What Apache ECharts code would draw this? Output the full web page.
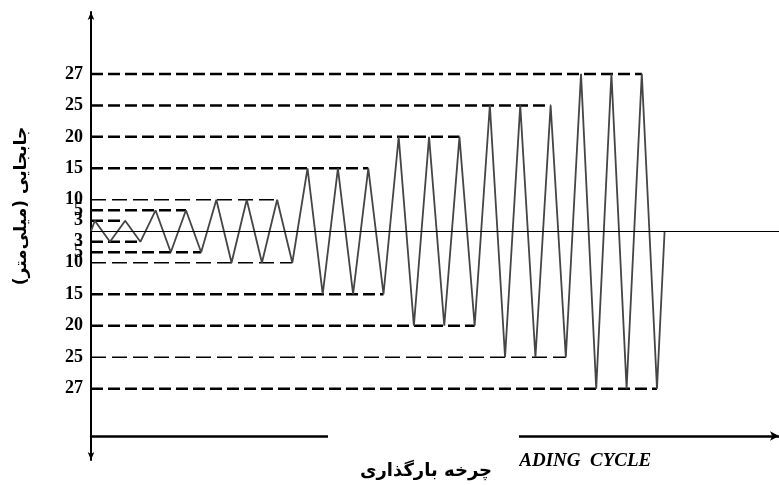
<!DOCTYPE html>
<html><head><meta charset="utf-8">
<script src="https://cdn.jsdelivr.net/npm/echarts@6/dist/echarts.min.js"></script>
<style>html,body{margin:0;padding:0;background:#fff}#c{width:779px;height:485px}</style>
</head><body><div id="c"></div>
<script>
// ---------------- data ----------------
const amplitudes = [3, 5, 10, 15, 20, 25, 27];          // displacement levels, mm
const cyclesPerAmplitude = [2, 2, 3, 3, 3, 3, 3];       // cycles at each level
const tickLabels = ['3', '5', '10', '15', '20', '25', '27'];
const yAxisTitle = 'جابجایی (میلی‌متر)';
const xAxisTitle = 'چرخه بارگذاری';
const xAxisTitleEn = 'LOADING  CYCLE';

// ---------------- schematic (non-uniform) axis scale ----------------
const knotsMm = [0, 3, 5, 10, 15, 20, 25, 27];
const knotsAxis = [0, 1, 2, 3, 6, 9, 12, 15];
function toAxis(v) {
  const s = v < 0 ? -1 : 1, a = Math.abs(v);
  for (let i = 1; i < knotsMm.length; i++) {
    if (a <= knotsMm[i]) {
      const f = (a - knotsMm[i - 1]) / (knotsMm[i] - knotsMm[i - 1]);
      return s * (knotsAxis[i - 1] + f * (knotsAxis[i] - knotsAxis[i - 1]));
    }
  }
  return s * knotsAxis[knotsAxis.length - 1];
}

// ---------------- build series ----------------
const X0 = 0.75;
const wave = [[X0, 0]];
const lastPos = {}, lastNeg = {};
let t = 1;
amplitudes.forEach((a, i) => {
  for (let c = 0; c < cyclesPerAmplitude[i]; c++) {
    lastPos[a] = t; wave.push([t++, toAxis(a)]);
    lastNeg[a] = t; wave.push([t++, toAxis(-a)]);
  }
});
wave.push([t - 0.5, 0]);

const thinLevels = [10, -10, -25];
const levelSeries = [];
amplitudes.forEach(a => {
  [a, -a].forEach(lv => {
    const xe = lv > 0 ? lastPos[a] : lastNeg[a];
    const thin = thinLevels.indexOf(lv) >= 0;
    levelSeries.push({
      type: 'line', silent: true, symbol: 'none', z: 1,
      data: [[X0, toAxis(lv)], [xe, toAxis(lv)]],
      lineStyle: { color: '#000', width: thin ? 1.4 : 2.5, type: thin ? [15, 6] : [12, 5] }
    });
  });
});

const tickPositions = [];
const labelMap = {};
amplitudes.forEach((a, i) => {
  [a, -a].forEach(lv => {
    const p = toAxis(lv);
    tickPositions.push(p);
    labelMap[p.toFixed(3)] = tickLabels[i];
  });
});

const chart = echarts.init(document.getElementById('c'), null, { renderer: 'canvas' });
chart.setOption({
  animation: false,
  backgroundColor: '#fff',
  grid: { left: 91, right: 0, top: 12, bottom: 25 },
  xAxis: {
    type: 'value', min: X0, max: 46.03, offset: -24,
    axisLine: { show: true, onZero: false, lineStyle: { color: '#000', width: 2.5 },
      symbol: ['none', 'arrow'], symbolSize: [7, 9] },
    axisTick: { show: false }, axisLabel: { show: false }, splitLine: { show: false }
  },
  yAxis: {
    type: 'value', min: -21.8, max: 20.9,
    axisLine: { show: true, onZero: false, lineStyle: { color: '#000', width: 2 },
      symbol: ['arrow', 'arrow'], symbolSize: [5, 8] },
    axisTick: { show: false }, splitLine: { show: false },
    axisLabel: {
      customValues: tickPositions,
      formatter: v => labelMap[Number(v).toFixed(3)] || '',
      fontFamily: 'Liberation Serif', fontWeight: 'bold', fontSize: 18, color: '#000', margin: 8
    }
  },
  series: [
    {
      type: 'line', data: wave, symbol: 'none', z: 3,
      lineStyle: { color: '#454545', width: 1.8 },
      markLine: {
        silent: true, symbol: 'none', label: { show: false },
        lineStyle: { color: '#000', width: 1, type: 'solid' },
        data: [{ yAxis: 0 }]
      }
    }
  ].concat(levelSeries),
  graphic: [
    { type: 'text', z: 50, x: 494, y: 461,
      style: { text: xAxisTitleEn, font: 'italic bold 19px "Liberation Serif"', fill: '#000',
        textAlign: 'left', textVerticalAlign: 'middle' } },
    { type: 'rect', z: 60, shape: { x: 328, y: 427, width: 191, height: 58 }, style: { fill: '#fff' } },
    { type: 'text', z: 70, x: 426, y: 471,
      style: { text: xAxisTitle, font: 'bold 18px "DejaVu Sans"', fill: '#000',
        textAlign: 'center', textVerticalAlign: 'middle' } },
    { type: 'text', z: 70, x: 22, y: 206, rotation: Math.PI / 2,
      style: { text: yAxisTitle, font: 'bold 17px "DejaVu Sans"', fill: '#000',
        textAlign: 'center', textVerticalAlign: 'middle' } }
  ]
});
</script></body></html>
